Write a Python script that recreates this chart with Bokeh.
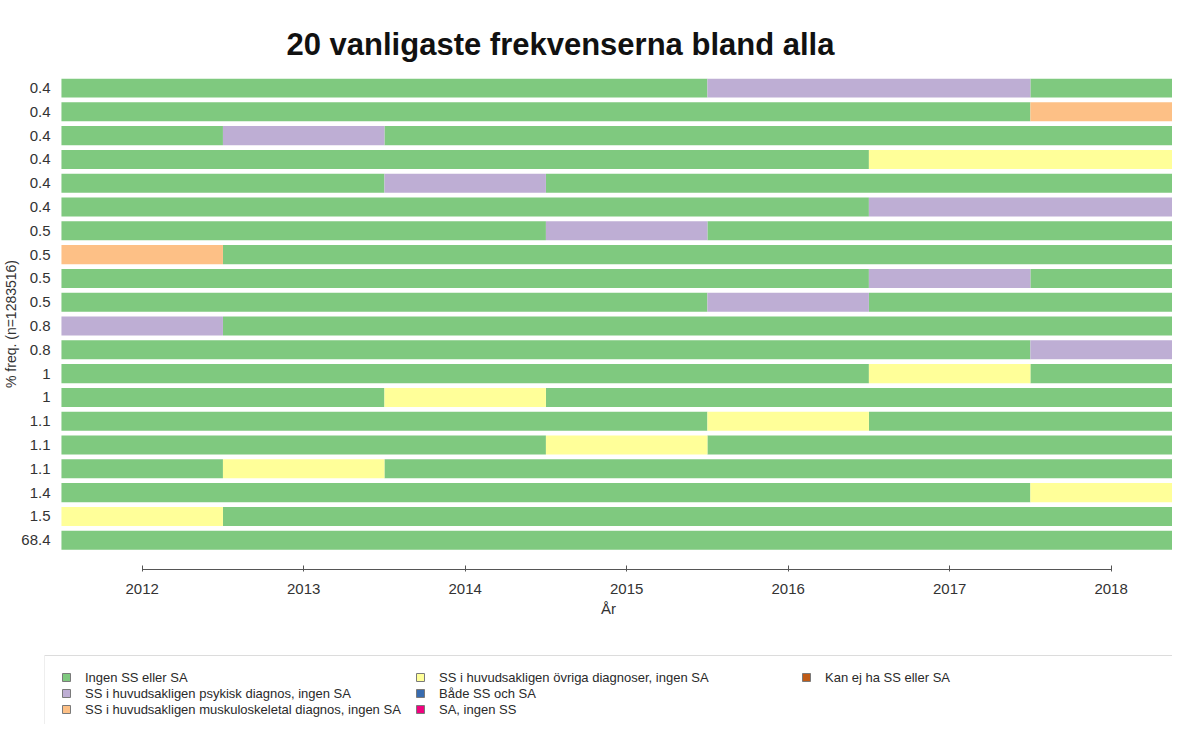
from bokeh.plotting import figure
from bokeh.layouts import column
from bokeh.models import (ColumnDataSource, FixedTicker, Legend, LegendItem,
                          BoxAnnotation, Range1d)
from bokeh.embed import file_html
from bokeh.resources import INLINE

# ---------------- data ----------------
years = [2012, 2013, 2014, 2015, 2016, 2017, 2018]

state_labels = [
    "Ingen SS eller SA",
    "SS i huvudsakligen psykisk diagnos, ingen SA",
    "SS i huvudsakligen muskuloskeletal diagnos, ingen SA",
    "SS i huvudsakligen övriga diagnoser, ingen SA",
    "Både SS och SA",
    "SA, ingen SS",
    "Kan ej ha SS eller SA",
]
state_colors = ["#7FC97F", "#BEAED4", "#FDC086", "#FFFF99",
                "#386CB0", "#F0027F", "#BF5B17"]

# sequences listed top row first; each digit = state index per year
sequences = [
    "0000110", "0000002", "0100000", "0000033", "0010000",
    "0000011", "0001000", "2000000", "0000010", "0000100",
    "1000000", "0000001", "0000030", "0030000", "0000300",
    "0003000", "0300000", "0000003", "3000000", "0000000",
]
freq_labels = ["0.4", "0.4", "0.4", "0.4", "0.4", "0.4", "0.5", "0.5",
               "0.5", "0.5", "0.8", "0.8", "1", "1", "1.1", "1.1", "1.1",
               "1.4", "1.5", "68.4"]

title_text = "20 vanligaste frekvenserna bland alla"
x_label = "År"
y_label = "% freq. (n=1283516)"

n_rows = len(sequences)
bar_h = 0.8

# runs of equal states per row -> quads
runs = {k: dict(left=[], right=[], top=[], bottom=[]) for k in range(len(state_labels))}
for i, seq in enumerate(sequences):
    ypos = n_rows - 1 - i
    start = 0
    for j in range(1, len(seq) + 1):
        if j == len(seq) or seq[j] != seq[start]:
            s = int(seq[start])
            runs[s]["left"].append(years[start] - 0.5)
            runs[s]["right"].append(years[j - 1] + 0.5)
            runs[s]["top"].append(ypos + bar_h / 2)
            runs[s]["bottom"].append(ypos - bar_h / 2)
            start = j

FONT = "Liberation Sans"
W = 1172
BL = 37  # left border (frame starts a bit left of the bars)

p = figure(width=W, height=640, output_backend="svg", toolbar_location=None,
           x_range=(2011.395, 2018.38), y_range=(-1.23, 19.4),
           min_border_left=BL, min_border_right=0, min_border_top=78,
           min_border_bottom=71, outline_line_color=None,
           background_fill_color="white", border_fill_color="white")
p.grid.visible = False

for s in range(len(state_labels)):
    src = ColumnDataSource(runs[s])
    p.quad(left="left", right="right", top="top", bottom="bottom", source=src,
           fill_color=state_colors[s], line_color=None)

# title
p.title.text = title_text
p.title.align = "left"
p.title.offset = 242
p.title.standoff = 34
p.title.text_font = FONT
p.title.text_font_size = "31px"
p.title.text_font_style = "bold"
p.title.text_color = "#111111"

# axes
xa = p.xaxis[0]
xa.ticker = FixedTicker(ticks=years)
xa.bounds = (2012, 2018)
xa.minor_tick_line_color = None
xa.axis_line_color = "#555555"
xa.major_tick_line_color = "#555555"
xa.major_tick_in = 4
xa.major_tick_out = 2
xa.major_label_standoff = 12
xa.major_label_text_font = FONT
xa.major_label_text_font_size = "15px"
xa.major_label_text_color = "#333333"
xa.axis_label = x_label
xa.axis_label_text_font = FONT
xa.axis_label_text_font_size = "15px"
xa.axis_label_text_font_style = "normal"
xa.axis_label_text_color = "#333333"
xa.axis_label_standoff = 3

ya = p.yaxis[0]
ya.ticker = FixedTicker(ticks=list(range(n_rows)))
ya.major_label_overrides = {n_rows - 1 - i: lab for i, lab in enumerate(freq_labels)}
ya.axis_line_color = None
ya.major_tick_line_color = None
ya.minor_tick_line_color = None
ya.major_tick_in = 0
ya.major_tick_out = 0
ya.major_label_standoff = -6
ya.major_label_text_font = FONT
ya.major_label_text_font_size = "15px"
ya.major_label_text_color = "#333333"
ya.axis_label = y_label
ya.axis_label_text_font = FONT
ya.axis_label_text_font_size = "14px"
ya.axis_label_text_font_style = "normal"
ya.axis_label_text_color = "#333333"
ya.axis_label_standoff = -1

# ---------------- legend panel ----------------
LH = 84
FW = W - BL  # frame width (frames are aligned in the column)
lf = figure(width=W, height=LH, output_backend="svg", toolbar_location=None,
            x_range=Range1d(0, FW), y_range=Range1d(0, LH),
            min_border=0, min_border_left=BL, outline_line_color=None,
            x_axis_type=None, y_axis_type=None, background_fill_color="white",
            border_fill_color="white")
lf.grid.visible = False

leg_r = []
for s in range(len(state_labels)):
    # single off-screen square per state, used only as the legend swatch
    r = lf.quad(left=[-1000], right=[-990], top=[-990], bottom=[-1000],
                fill_color=state_colors[s], line_color="#7a7a7a", line_width=1)
    leg_r.append(r)

cols = [(17, [0, 1, 2]), (371, [3, 4, 5]), (757, [6])]
for xoff, idxs in cols:
    items = [LegendItem(label=state_labels[k], renderers=[leg_r[k]]) for k in idxs]
    h = 16 * len(idxs)
    leg = Legend(items=items, location=(xoff, LH - 29 - h), orientation="vertical",
                 padding=0, spacing=0, margin=0, label_height=16, glyph_height=10,
                 glyph_width=10, label_standoff=14, border_line_color=None,
                 background_fill_alpha=0, label_text_font=FONT,
                 label_text_font_size="13px", label_text_color="#2a2a2a")
    lf.add_layout(leg, "center")

lf.add_layout(BoxAnnotation(left=0, right=FW + 100, top=LH - 15, bottom=-100,
                            fill_alpha=0, line_color="#8a8a8a", line_width=1))

layout = column(p, lf, spacing=0)
open("out.html", "w").write(file_html(layout, INLINE))
